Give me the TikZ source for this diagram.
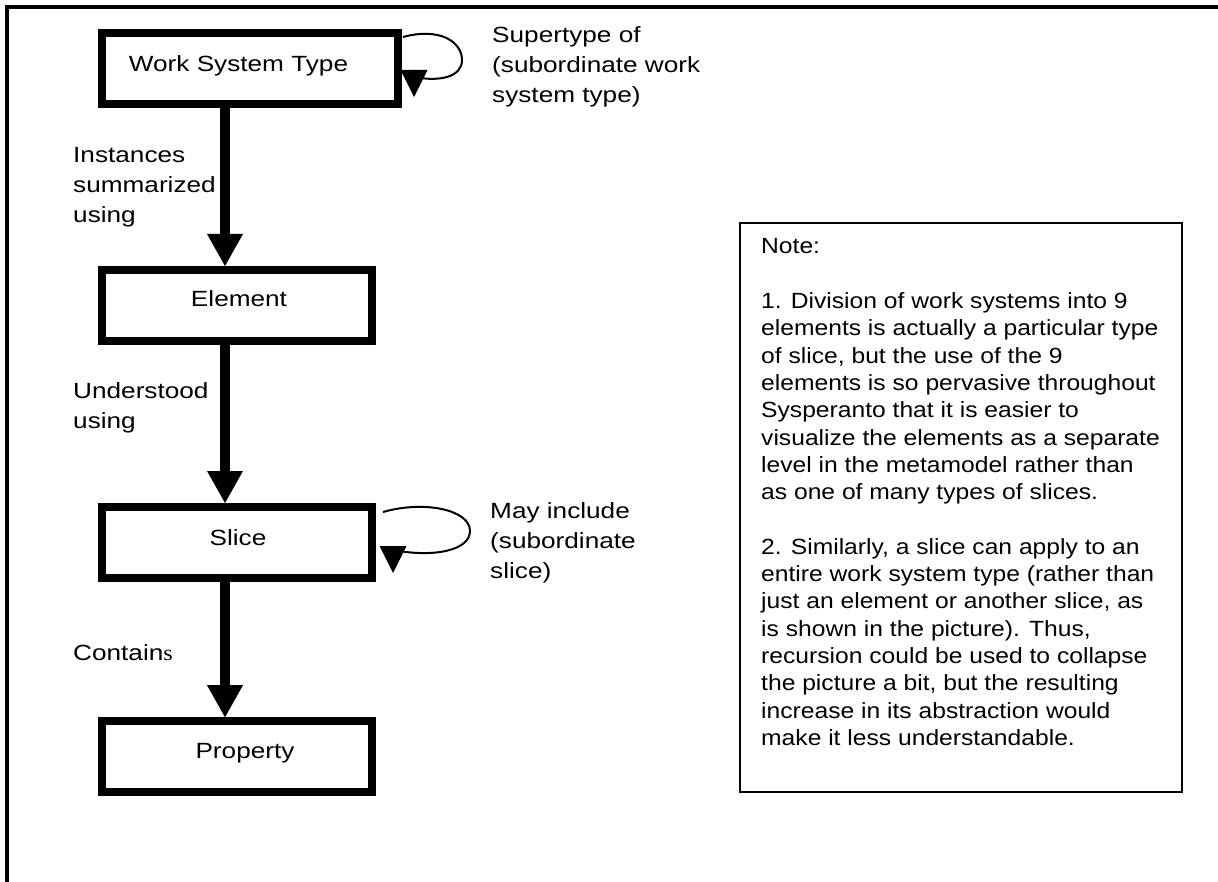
\documentclass[tikz,border=0pt]{standalone}
\usepackage{fontspec}
\setmainfont{Liberation Sans}
\newfontfamily\wfont{Liberation Sans}[FakeStretch=1.19]
\newfontfamily\nfont{Liberation Sans}[FakeStretch=1.12]
\newfontfamily\serfont{Liberation Serif}[FakeStretch=1.1]
\usetikzlibrary{arrows.meta}
\begin{document}
\begin{tikzpicture}[x=1pt,y=-1pt,
  box/.style={draw, line width=8pt, minimum width=270pt, minimum height=71pt, inner sep=0pt},
  boxtext/.style={anchor=base, inner sep=0pt, font=\wfont\fontsize{22}{30}\selectfont},
  lab/.style={anchor=base west, inner sep=0pt, font=\wfont\fontsize{22}{30}\selectfont},
  flow/.style={line width=10pt, -{Triangle[width=36pt,length=32pt,line width=0pt]}},
  selfloop/.style={line width=2pt, -{Triangle[width=27pt,length=27pt,line width=0pt]}},
  frameline/.style={line width=4pt, miter limit=10}
]
\useasboundingbox (0,0) rectangle (1218,882);
\fill[white] (0,0) rectangle (1218,882);

% outer frame (top and left)
\coordinate (fbl) at (7,882);
\coordinate (ftl) at (7,7);
\coordinate (ftr) at (1218,7);
\draw[frameline] (fbl) -- (ftl) -- (ftr);

% boxes
\node[box, minimum width=296pt] (wst) at (250,69) {};
\node[box] (elem) at (236.8,305.5) {};
\node[box] (slice) at (236.8,542.5) {};
\node[box] (prop) at (236.8,756.7) {};

\node[boxtext] (wsttext) at (238.5,71.7) {Work System Type};
\node[boxtext] (elemtext) at (239,306.7) {Element};
\node[boxtext] (slicetext) at (238,545) {Slice};
\node[boxtext] (proptext) at (245,758.3) {Property};

% flow arrows
\draw[flow] (wst.south -| 225,0) -- (elem.north -| 225,0);
\draw[flow] (elem.south -| 225,0) -- (slice.north -| 225,0);
\draw[flow] (slice.south -| 225,0) -- (prop.north -| 225,0);

% self loops
\coordinate (wstA) at (403,37);
\coordinate (wstB) at (414,97);
\draw[selfloop] (wstA) .. controls (440,27) and (462,42) .. (462,60)
   .. controls (462,77) and (440,82) .. (414,77) -- (wstB);
\coordinate (slA) at (383,512);
\coordinate (slB) at (393,573);
\draw[selfloop] (slA) .. controls (425,500) and (470,510) .. (470,531)
   .. controls (470,550) and (435,558) .. (393,550) -- (slB);

% labels
\node[lab] (l1) at (73,162.7) {\begin{tabular}[t]{@{}l@{}}Instances\\summarized\\using\end{tabular}};
\node[lab] (l2) at (73,399) {\begin{tabular}[t]{@{}l@{}}Understood\\using\end{tabular}};
\node[lab] (l3) at (73,660) {Contain{\serfont s}};
\node[lab] (l4) at (492,43) {\begin{tabular}[t]{@{}l@{}}Supertype of\\(subordinate work\\system type)\end{tabular}};
\node[lab] (l5) at (490,518) {\begin{tabular}[t]{@{}l@{}}May include\\(subordinate\\slice)\end{tabular}};

% note
\node[draw, line width=2.5pt, minimum width=442pt, minimum height=569pt, inner sep=0pt] (notebox) at (961,507.5) {};
\node[anchor=base west, inner sep=0pt, font=\nfont\fontsize{22}{27.3}\selectfont] (notetext) at (761,254) {\begin{tabular}[t]{@{}l@{}}Note:\\
\\
1. Division of work systems into 9\\
elements is actually a particular type\\
of slice, but the use of the 9\\
elements is so pervasive throughout\\
Sysperanto that it is easier to\\
visualize the elements as a separate\\
level in the metamodel rather than\\
as one of many types of slices.\\
\\
2. Similarly, a slice can apply to an\\
entire work system type (rather than\\
just an element or another slice, as\\
is shown in the picture). Thus,\\
recursion could be used to collapse\\
the picture a bit, but the resulting\\
increase in its abstraction would\\
make it less understandable.\end{tabular}};
\end{tikzpicture}
\end{document}
